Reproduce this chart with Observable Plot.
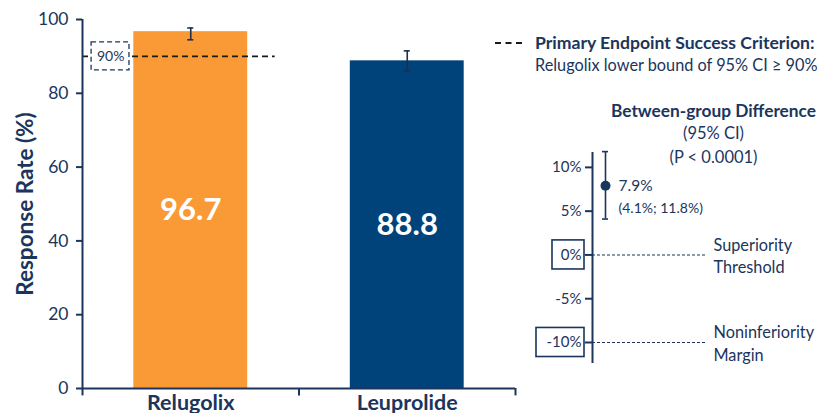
<!DOCTYPE html>
<html>
<head>
<meta charset="utf-8">
<script src="https://cdn.jsdelivr.net/npm/d3@7"></script>
<script src="https://cdn.jsdelivr.net/npm/@observablehq/plot@0.6"></script>
<style>
  html, body { margin: 0; padding: 0; background: #fff; overflow: hidden; }
  #chart { position: relative; width: 820px; height: 413px; font-family: Lato, "Noto Sans", sans-serif; color: #1b355c; }
  #chart svg { position: absolute; top: 0; }
  #legend { position: absolute; left: 495px; top: 32px; display: flex; align-items: flex-start; }
  #legend .swatch { width: 27px; margin-top: 10px; border-top: 2px dashed #1a1a1a; margin-right: 13px; }
  #legend .lines { line-height: 22px; font-size: 16.3px; white-space: nowrap; }
  #legend b { font-weight: 700; font-size: 17.6px; }
</style>
</head>
<body>
<div id="chart"></div>
<script>
// Response rates by treatment arm
const groups = ["Relugolix", "Leuprolide"];
const rates = [96.7, 88.8];
const ciLow = [94.5, 86.0];
const ciHigh = [97.7, 91.5];
const barColors = ["#F99A36", "#00437A"];
const rateTicks = [0, 20, 40, 60, 80, 100];
const criterion = 90;

// Between-group difference (percentage points)
const diffEstimate = 7.9;
const diffLow = 4.1;
const diffHigh = 11.8;
const diffTicks = [10, 5, 0, -5, -10];
const boxedTicks = [0, -10];
const thresholdValues = [0, -10];
const thresholdLabels = ["Superiority\nThreshold", "Noninferiority\nMargin"];

const navy = "#1b355c";
const ink = "#1f2f4a";

const bars = groups.map((g, i) => ({group: g, slot: i + 0.5, rate: rates[i], lo: ciLow[i], hi: ciHigh[i]}));
const halfBar = 0.263;
const capHalf = 0.014;

const main = Plot.plot({
  width: 820,
  height: 413,
  marginLeft: 82,
  marginRight: 305,
  marginTop: 19,
  marginBottom: 25,
  style: {fontFamily: "Lato, 'Noto Sans', sans-serif", color: navy, background: "transparent", overflow: "visible"},
  x: {domain: [0, groups.length], axis: null},
  y: {domain: [0, 100], axis: null},
  color: {domain: groups, range: barColors},
  marks: [
    // bars
    Plot.rect(bars, {x1: d => d.slot - halfBar, x2: d => d.slot + halfBar, y1: 0, y2: "rate", fill: "group"}),
    // success criterion line
    Plot.ruleY([criterion], {x1: 0, x2: 0.89, stroke: "#1a1a1a", strokeWidth: 1.6, strokeDasharray: "6,4"}),
    // error bars
    Plot.ruleX(bars, {x: "slot", y1: "lo", y2: "hi", stroke: ink, strokeWidth: 1.6}),
    Plot.ruleY(bars, {y: "lo", x1: d => d.slot - capHalf, x2: d => d.slot + capHalf, stroke: ink, strokeWidth: 1.6}),
    Plot.ruleY(bars, {y: "hi", x1: d => d.slot - capHalf, x2: d => d.slot + capHalf, stroke: ink, strokeWidth: 1.6}),
    // boxed criterion label
    Plot.rect([criterion], {x1: 0.042, x2: 0.217, y1: d => d - 3.8, y2: d => d + 3.8, fill: "white", stroke: navy, strokeWidth: 1.3, strokeDasharray: "5,3"}),
    Plot.text([criterion], {x: 0.13, y: d => d, text: d => `${d}%`, fontSize: 14, fill: navy}),
    // value labels inside bars
    Plot.text(bars, {x: "slot", y: d => d.rate / 2, text: d => d.rate.toFixed(1), fill: "white", fontSize: 31, fontWeight: "bold"}),
    // y axis
    Plot.axisY(rateTicks, {tickSize: 6, tickPadding: 8, fontSize: 17.5, stroke: navy, strokeWidth: 2, fill: navy, label: null}),
    Plot.ruleX([0], {y1: 0, y2: 100, stroke: navy, strokeWidth: 2}),
    // x axis baseline and group boundary ticks
    Plot.ruleY([0], {x1: 0, x2: groups.length, stroke: navy, strokeWidth: 2}),
    Plot.ruleX(d3.range(groups.length + 1), {y1: 0, y2: -2, stroke: navy, strokeWidth: 2}),
    // group names
    Plot.text(bars, {x: "slot", y: 0, text: "group", lineAnchor: "top", dy: 6, fontSize: 21.5, fontWeight: "bold", fill: navy}),
    // y axis title
    Plot.text(["Response Rate (%)"], {frameAnchor: "left", rotate: -90, dx: -57, textAnchor: "middle", lineAnchor: "middle", fontSize: 22.5, fontWeight: "bold", fill: navy})
  ]
});

const diffRow = [{est: diffEstimate, lo: diffLow, hi: diffHigh}];
const thresholds = thresholdValues.map((v, i) => ({value: v, label: thresholdLabels[i]}));

const diff = Plot.plot({
  width: 340,
  height: 413,
  marginLeft: 112,
  marginRight: 0,
  marginTop: 152,
  marginBottom: 50,
  style: {fontFamily: "Lato, 'Noto Sans', sans-serif", color: navy, background: "transparent", overflow: "visible"},
  x: {domain: [0, 228], axis: null},
  y: {domain: [-12.4, 11.7], axis: null},
  marks: [
    // boxes around key tick labels
    Plot.rect(boxedTicks, {x1: d => (d === 0 ? -40 : -56), x2: -8, y1: d => d - 1.66, y2: d => d + 1.66, stroke: navy, strokeWidth: 1.6, fill: "white"}),
    Plot.axisY(diffTicks, {tickSize: 7, tickPadding: 4, fontSize: 15, tickFormat: d => `${d}%`, stroke: navy, strokeWidth: 2, fill: navy, label: null}),
    Plot.ruleX([0], {stroke: navy, strokeWidth: 2}),
    // threshold reference lines
    Plot.ruleY(thresholds, {y: "value", x1: 0, x2: 113, stroke: navy, strokeWidth: 1.1, strokeDasharray: "3,2"}),
    Plot.text(thresholds, {x: 121, y: "value", text: "label", textAnchor: "start", lineHeight: 1.38, fontSize: 16.3, fill: navy}),
    // estimate with 95% CI
    Plot.ruleX(diffRow, {x: 13, y1: "lo", y2: "hi", stroke: navy, strokeWidth: 1.6}),
    Plot.ruleY(diffRow, {y: "lo", x1: 10, x2: 16, stroke: navy, strokeWidth: 1.6}),
    Plot.ruleY(diffRow, {y: "hi", x1: 10, x2: 16, stroke: navy, strokeWidth: 1.6}),
    Plot.dot(diffRow, {x: 13, y: "est", r: 5, fill: navy}),
    Plot.text(diffRow, {x: 13, y: "est", dx: 13, text: d => `${d.est}%`, textAnchor: "start", fontSize: 15.5, fill: navy}),
    Plot.text(diffRow, {x: 13, y: "est", dx: 13, dy: 23, text: d => `(${d.lo}%; ${d.hi}%)`, textAnchor: "start", fontSize: 14, fill: navy}),
    // panel heading
    Plot.text(["Between-group Difference"], {x: 121, frameAnchor: "top", lineAnchor: "middle", dy: -41, fontSize: 17.3, fontWeight: "bold", fill: navy}),
    Plot.text(["(95% CI)"], {x: 121, frameAnchor: "top", lineAnchor: "middle", dy: -19, fontSize: 16.5, fill: navy}),
    Plot.text(["(P < 0.0001)"], {x: 121, frameAnchor: "top", lineAnchor: "middle", dy: 5, fontSize: 16.5, fill: navy})
  ]
});
diff.style.left = "480px";

const chart = document.getElementById("chart");
chart.append(main, diff);

const legend = document.createElement("div");
legend.id = "legend";
legend.innerHTML = `<div class="swatch"></div><div class="lines"><b>Primary Endpoint Success Criterion:</b><br>Relugolix lower bound of 95% CI ≥ 90%</div>`;
chart.append(legend);
</script>
</body>
</html>
